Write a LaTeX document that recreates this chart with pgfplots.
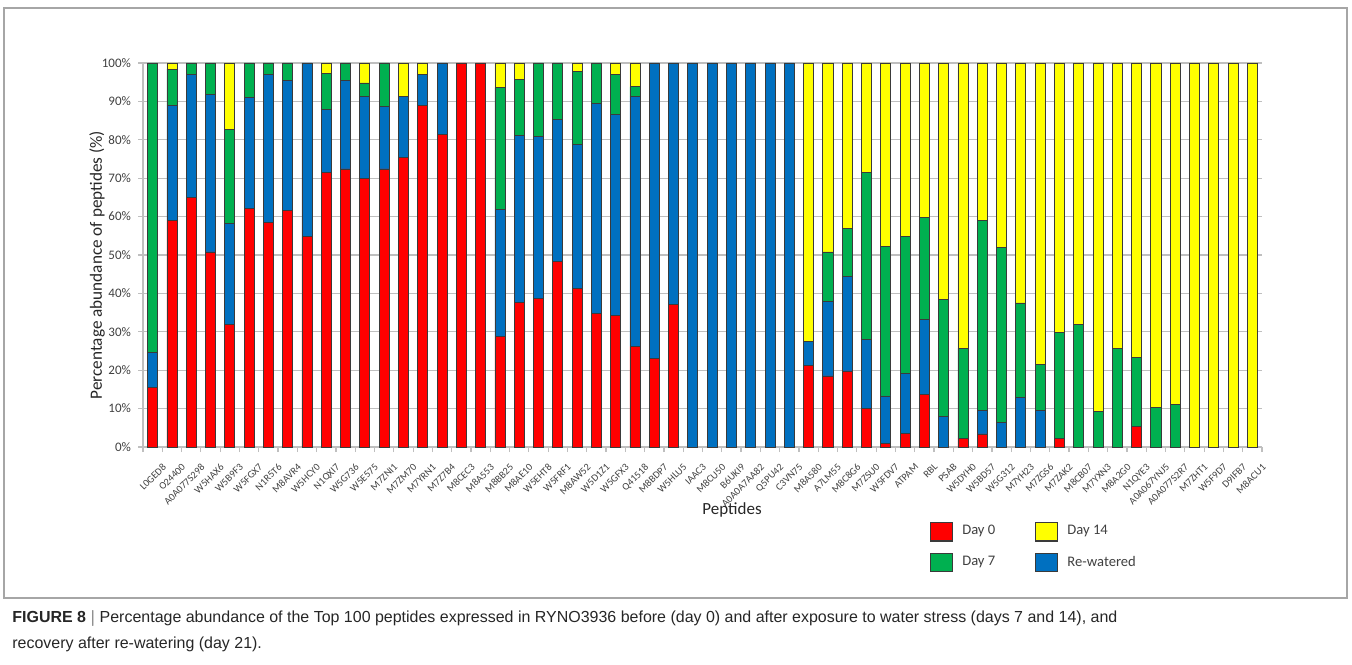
\documentclass[border=0pt]{standalone}
\usepackage{pgfplots}
\pgfplotsset{compat=1.18}
\usepackage{pgfplotstable}
\usepackage{graphicx}
\usepackage{fontspec}
\setmainfont{Carlito}
\newfontfamily\capfont{Liberation Sans}
\definecolor{cRed}{HTML}{FF0000}
\definecolor{cBlue}{HTML}{0070C0}
\definecolor{cGreen}{HTML}{00B050}
\definecolor{cYellow}{HTML}{FFFF00}
\definecolor{gridgray}{HTML}{BFBFBF}
\definecolor{txt}{HTML}{404040}
\definecolor{edge}{HTML}{3A3A3A}
\pgfplotsset{sq/.style={legend image code/.code={\draw[##1] (0pt,-4.6pt) rectangle (11pt,4.6pt);}}}

\pgfplotstableread{
x d0 rw d7 d14
0 15.5 9.1 75.4 0
1 59.0 30.0 9.4 1.6
2 65.0 32.1 2.9 0
3 50.8 41.1 8.1 0
4 32.0 26.3 24.3 17.4
5 62.2 28.8 9.0 0
6 58.4 38.7 2.9 0
7 61.7 33.7 4.6 0
8 54.8 45.2 0 0
9 71.6 16.3 9.4 2.7
10 72.4 23.1 4.5 0
11 70.0 21.2 3.6 5.2
12 72.4 16.2 11.4 0
13 75.5 15.7 0 8.8
14 89.0 8.1 0 2.9
15 81.4 18.6 0 0
16 100 0 0 0
17 100 0 0 0
18 28.8 33.1 31.7 6.4
19 37.7 43.4 14.7 4.2
20 38.8 42.0 19.2 0
21 48.4 36.8 14.8 0
22 41.4 37.4 19.0 2.2
23 34.7 54.8 10.5 0
24 34.3 52.3 10.3 3.1
25 26.2 65.0 2.6 6.2
26 23.0 77.0 0 0
27 37.2 62.8 0 0
28 0 100 0 0
29 0 100 0 0
30 0 100 0 0
31 0 100 0 0
32 0 100 0 0
33 0 100 0 0
34 21.3 6.1 0 72.6
35 18.5 19.5 12.8 49.2
36 19.8 24.7 12.4 43.1
37 10.1 17.8 43.6 28.5
38 1.0 12.3 38.9 47.8
39 3.5 15.6 35.8 45.1
40 13.7 19.5 26.5 40.3
41 0 7.9 30.5 61.6
42 2.3 0 23.4 74.3
43 3.4 6.1 49.6 40.9
44 0 6.5 45.4 48.1
45 0 12.8 24.7 62.5
46 0 9.5 12.0 78.5
47 2.3 0 27.6 70.1
48 0 0 31.8 68.2
49 0 0 9.3 90.7
50 0 0 25.7 74.3
51 5.4 0 18.0 76.6
52 0 0 10.4 89.6
53 0 0 11.1 88.9
54 0 0 0 100
55 0 0 0 100
56 0 0 0 100
57 0 0 0 100
}\data

\begin{document}
\begin{tikzpicture}
\path[use as bounding box] (0,0) rectangle (676pt,332pt);
\draw[color=black!35, line width=0.6pt] (2pt,33pt) rectangle (673.5pt,328pt);
\begin{axis}[
  at={(71.5pt,108.5pt)}, anchor=south west,
  width=559.5pt, height=192pt, scale only axis,
  ybar stacked, bar width=0.52,
  xmin=-0.5, xmax=57.5, ymin=0, ymax=100,
  xtick={0,...,57},
  xticklabels={L0GED8,O24400,A0A077S298,W5HAX6,W5B9F3,W5FGX7,N1R5T6,M8AVR4,W5HCY0,N1QXI7,W5G736,W5E575,M7ZNI1,M7ZM70,M7YRN1,M7Z7B4,M8CEC3,M8A553,M8BB25,M8AE10,W5EHT8,W5FRF1,M8AW52,W5D1Z1,W5GFX3,Q41518,M8BDP7,W5HLU5,IAAC3,M8CU50,B6UKI9,A0A0A7AA82,Q5PU42,C3VN75,M8A580,A7LM55,M8C8G6,M7ZSU0,W5FDV7,ATPAM,RBL,PSAB,W5DYH0,W5BD57,W5G312,M7YH23,M7ZGS6,M7ZAK2,M8CB07,M7YXN3,M8A2G0,N1QYE3,A0A067YNJ5,A0A077S2R7,M7ZHT1,W5F9D7,D9IFB7,M8ACU1},
  x tick label style={rotate=45, anchor=north east, inner sep=0pt, xshift=-0.5pt, yshift=-7pt, font=\fontsize{5.1}{6}\selectfont, text=txt},
  major x tick style={draw=none},
  minor xtick={-0.5,0.5,...,57.5},
  minor tick length=2.5pt, major tick length=2.5pt,
  ytick={0,10,...,100},
  yticklabel={\pgfmathprintnumber{\tick}\%},
  y tick label style={font=\fontsize{6.5}{7}\selectfont, text=txt},
  /pgf/number format/assume math mode=true,
  ymajorgrids, grid style={gridgray, line width=0.6pt},
  axis x line*=bottom, axis y line*=left,
  axis line style={gridgray, line width=0.6pt, -},
  tick align=outside, tick style={gridgray, line width=0.6pt},
  legend columns=2,
  legend style={at={(0.703,-0.193)}, anchor=north west, draw=none, fill=none,
    inner sep=0pt, font=\fontsize{7.3}{8.5}\selectfont, text=txt,
    row sep=5pt,
    nodes={inner xsep=4.5pt},
    /tikz/every even column/.append style={column sep=15.5pt}},
  legend cell align=left,
]
\addlegendimage{sq, fill=cRed, draw=edge, line width=0.6pt}
\addlegendimage{sq, fill=cYellow, draw=edge, line width=0.6pt}
\addlegendimage{sq, fill=cGreen, draw=edge, line width=0.6pt}
\addlegendimage{sq, fill=cBlue, draw=edge, line width=0.6pt}
\addplot[fill=cRed, draw=edge, line width=0.4pt] table[x=x, y=d0] {\data};
\addplot[fill=cBlue, draw=edge, line width=0.4pt] table[x=x, y=rw] {\data};
\addplot[fill=cGreen, draw=edge, line width=0.4pt] table[x=x, y=d7] {\data};
\addplot[fill=cYellow, draw=edge, line width=0.4pt] table[x=x, y=d14] {\data};
\legend{Day 0, Day 14, Day 7, Re-watered}
\end{axis}
\node[rotate=90, font=\fontsize{8.6}{10}\selectfont, text=black!85] at (48.5pt,199.5pt) {Percentage abundance of peptides (\%)};
\node[font=\fontsize{8.5}{10}\selectfont, text=black!85] at (366pt,77pt) {Peptides};
\node[anchor=base west, inner sep=0pt] at (6pt,21pt) {\resizebox{552.5pt}{\height}{\capfont\fontsize{8}{13}\selectfont\color{black!85}\begin{tabular}[t]{@{}l@{}}\textbf{FIGURE 8 $|$} Percentage abundance of the Top 100 peptides expressed in RYNO3936 before (day 0) and after exposure to water stress (days 7 and 14), and\\ recovery after re-watering (day 21).\end{tabular}}};
\end{tikzpicture}
\end{document}
